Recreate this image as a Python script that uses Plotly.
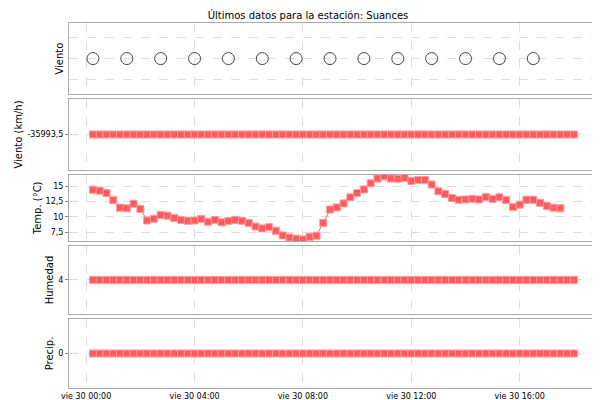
import plotly.graph_objects as go
import pandas as pd

temp = [14.45,14.3,13.9,12.75,11.5,11.4,12.15,11.3,9.4,9.7,10.3,10.2,9.8,9.5,9.35,9.4,9.65,9.2,9.5,9.1,
        9.3,9.5,9.35,9.0,8.4,8.1,8.3,7.7,6.95,6.6,6.4,6.3,6.7,6.9,9.0,11.2,11.55,12.2,13.2,13.9,
        14.5,15.5,16.3,16.65,16.3,16.25,16.4,15.9,16.05,16.05,15.3,14.2,13.75,13.1,12.8,12.85,12.95,12.85,13.25,12.95,
        13.2,12.75,11.6,12.0,12.8,12.8,12.3,11.8,11.5,11.4]
t_temp = pd.date_range("2015-01-30 00:15", periods=len(temp), freq="15min")
t_const = pd.date_range("2015-01-30 00:15", periods=72, freq="15min")
viento_kmh = [-35993.5]*72
humedad = [4]*72
precip = [0]*72
t_dir = t_temp[::5]
dir_y = [0]*len(t_dir)
tickvals = pd.date_range("2015-01-30 00:00", periods=5, freq="4h")
ticktext = ["vie 30 00:00","vie 30 04:00","vie 30 08:00","vie 30 12:00","vie 30 16:00"]

red = "#ff5a5f"
mk = dict(symbol="square", size=7, color=red, line=dict(color="#ff9a9a", width=1))
fig = go.Figure()
fig.add_trace(go.Scatter(x=t_dir, y=dir_y, mode="markers", xaxis="x", yaxis="y",
    marker=dict(symbol="circle-open", size=12, color="#444", line=dict(width=1))))
fig.add_trace(go.Scatter(x=t_const, y=viento_kmh, mode="markers+lines", xaxis="x2", yaxis="y2", marker=mk, line=dict(color=red, width=1)))
fig.add_trace(go.Scatter(x=t_temp, y=temp, mode="markers+lines", xaxis="x3", yaxis="y3", marker=mk, line=dict(color=red, width=1)))
fig.add_trace(go.Scatter(x=t_const, y=humedad, mode="markers+lines", xaxis="x4", yaxis="y4", marker=mk, line=dict(color=red, width=1)))
fig.add_trace(go.Scatter(x=t_const, y=precip, mode="markers+lines", xaxis="x5", yaxis="y5", marker=mk, line=dict(color=red, width=1)))

xr = ["2015-01-29 23:22", "2015-01-30 19:00"]
grid = dict(showgrid=True, gridcolor="#dddddd", griddash="dash", showline=True, linecolor="#aaaaaa",
            mirror=True, zeroline=False, automargin=False)
doms = [[0.805,1],[0.597,0.792],[0.403,0.584],[0.203,0.389],[0,0.189]]
ycfg = [
    dict(title="Viento", range=[-2,2], tickvals=[-1.2,0,1.2], showticklabels=False, ticks=""),
    dict(title="Viento (km/h)", range=[-35995,-35992], tickvals=[-35993.5], ticktext=["-35993,5"], ticks="outside"),
    dict(title="Temp. (°C)", range=[6.05,16.9], tickvals=[7.5,10,12.5,15], ticktext=["7,5","10","12,5","15"], ticks="outside"),
    dict(title="Humedad", range=[3,5], tickvals=[4], ticks="outside"),
    dict(title="Precip.", range=[-1,1], tickvals=[0], ticks="outside"),
]
lay = {}
for i in range(5):
    s = "" if i == 0 else str(i+1)
    lay["xaxis"+s] = dict(range=xr, type="date", tickvals=tickvals, ticktext=ticktext,
                          showticklabels=(i == 4), anchor="y"+s, **grid)
    yc = ycfg[i]
    lay["yaxis"+s] = dict(domain=doms[i], anchor="x"+s, title=dict(text=yc.pop("title"), standoff=2),
                          ticklen=3, tickcolor="#888", **yc, **grid)
fig.update_layout(**lay, width=600, height=400, showlegend=False,
    margin=dict(l=61, r=7, t=15, b=20), plot_bgcolor="white", paper_bgcolor="white",
    font=dict(family="DejaVu Sans", size=8, color="#000"),
    title=dict(text="Últimos datos para la estación: Suances", x=0.5, y=0.99, yanchor="top", xanchor="center",
               font=dict(size=10)))
fig.write_html("out.html")
